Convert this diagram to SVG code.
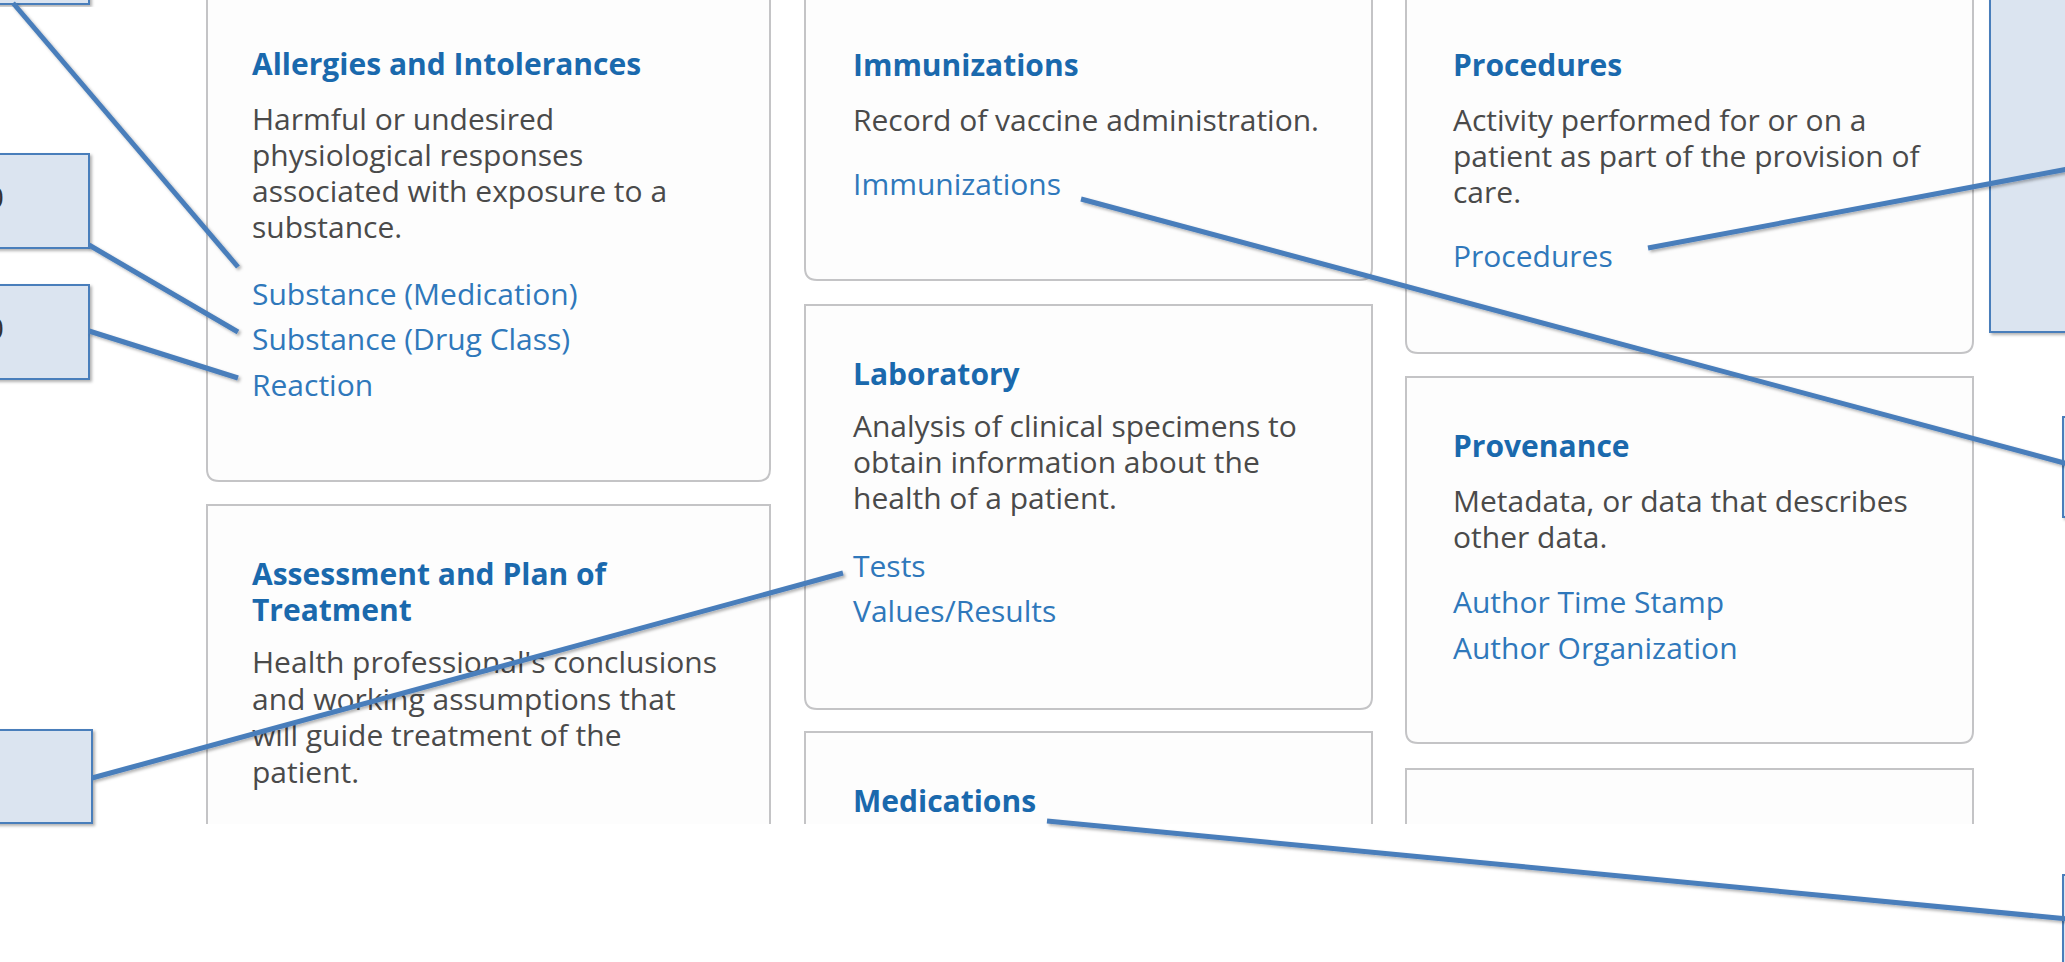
<svg xmlns="http://www.w3.org/2000/svg" width="2065" height="962" viewBox="0 0 2065 962">
<style>
.card{fill:#fdfdfd;stroke:#c4c4c6;stroke-width:2}
.t{font-family:"Open Sans","Noto Sans",sans-serif;font-size:30px;font-weight:700;fill:#1a69ad}
.d{font-family:"Open Sans","Noto Sans",sans-serif;font-size:30px;fill:#4a4a4a}
.l{font-family:"Open Sans","Noto Sans",sans-serif;font-size:30px;fill:#2f78bb}
.box{fill:#dbe4f0;stroke:#4a7ebb;stroke-width:2}
.con{stroke:#4a7ebb;stroke-width:5;fill:none;stroke-linecap:butt}
.g{font-family:"Open Sans","Noto Sans",sans-serif;font-size:30px;fill:#333}
</style>
<defs>
<clipPath id="shot"><rect x="0" y="0" width="2065" height="824"/></clipPath>
<filter id="sh" x="-10%" y="-10%" width="130%" height="130%"><feDropShadow dx="2" dy="2" stdDeviation="1.5" flood-color="#000" flood-opacity="0.3"/></filter>
</defs>
<rect width="2065" height="962" fill="#ffffff"/>
<g clip-path="url(#shot)">
<g id="allergies">
<path class="card" d="M207,-10 H770 V469 Q770,481 758,481 H219 Q207,481 207,469 Z"/>
<text class="t" x="252" y="75">Allergies and Intolerances</text>
<text class="d" x="252" y="130">Harmful or undesired</text>
<text class="d" x="252" y="166">physiological responses</text>
<text class="d" x="252" y="202">associated with exposure to a</text>
<text class="d" x="252" y="238">substance.</text>
<text class="l" x="252" y="305">Substance (Medication)</text>
<text class="l" x="252" y="350">Substance (Drug Class)</text>
<text class="l" x="252" y="396">Reaction</text>
</g>
<g id="assessment">
<path class="card" d="M207,505 H770 V900 H207 Z"/>
<text class="t" x="252" y="585">Assessment and Plan of</text>
<text class="t" x="252" y="621">Treatment</text>
<text class="d" x="252" y="673">Health professional's conclusions</text>
<text class="d" x="252" y="710">and working assumptions that</text>
<text class="d" x="252" y="746">will guide treatment of the</text>
<text class="d" x="252" y="783">patient.</text>
</g>
<g id="immunizations">
<path class="card" d="M805,-10 H1372 V268 Q1372,280 1360,280 H817 Q805,280 805,268 Z"/>
<text class="t" x="853" y="76">Immunizations</text>
<text class="d" x="853" y="131">Record of vaccine administration.</text>
<text class="l" x="853" y="195">Immunizations</text>
</g>
<g id="laboratory">
<path class="card" d="M805,305 H1372 V697 Q1372,709 1360,709 H817 Q805,709 805,697 Z"/>
<text class="t" x="853" y="385">Laboratory</text>
<text class="d" x="853" y="437">Analysis of clinical specimens to</text>
<text class="d" x="853" y="473">obtain information about the</text>
<text class="d" x="853" y="509">health of a patient.</text>
<text class="l" x="853" y="577">Tests</text>
<text class="l" x="853" y="622">Values/Results</text>
</g>
<g id="medications">
<path class="card" d="M805,732 H1372 V900 H805 Z"/>
<text class="t" x="853" y="812">Medications</text>
</g>
<g id="procedures">
<path class="card" d="M1406,-10 H1973 V341 Q1973,353 1961,353 H1418 Q1406,353 1406,341 Z"/>
<text class="t" x="1453" y="76">Procedures</text>
<text class="d" x="1453" y="131">Activity performed for or on a</text>
<text class="d" x="1453" y="167">patient as part of the provision of</text>
<text class="d" x="1453" y="203">care.</text>
<text class="l" x="1453" y="267">Procedures</text>
</g>
<g id="provenance">
<path class="card" d="M1406,377 H1973 V731 Q1973,743 1961,743 H1418 Q1406,743 1406,731 Z"/>
<text class="t" x="1453" y="457">Provenance</text>
<text class="d" x="1453" y="512">Metadata, or data that describes</text>
<text class="d" x="1453" y="548">other data.</text>
<text class="l" x="1453" y="613">Author Time Stamp</text>
<text class="l" x="1453" y="659">Author Organization</text>
</g>
<g id="card-next">
<path class="card" d="M1406,769 H1973 V900 H1406 Z"/>
</g>
</g>
<g id="callout-l1"><rect class="box" filter="url(#sh)" x="-10" y="-10" width="99" height="14"/></g>
<g id="callout-l2"><rect class="box" filter="url(#sh)" x="-10" y="154" width="99" height="94"/><text class="g" x="4" y="208" text-anchor="end">0</text></g>
<g id="callout-l3"><rect class="box" filter="url(#sh)" x="-10" y="285" width="99" height="94"/><text class="g" x="4" y="339" text-anchor="end">0</text></g>
<g id="callout-l4"><rect class="box" filter="url(#sh)" x="-10" y="730" width="102" height="93"/></g>
<g id="callout-r1"><rect class="box" filter="url(#sh)" x="1990" y="-10" width="90" height="342"/></g>
<g id="callout-r2"><rect class="box" filter="url(#sh)" x="2063" y="417" width="20" height="100"/></g>
<g id="callout-r3"><rect class="box" filter="url(#sh)" x="2063" y="875" width="20" height="100"/></g>
<g id="connectors" filter="url(#sh)">
<line class="con" x1="13" y1="3" x2="238" y2="267"/>
<line class="con" x1="89" y1="245" x2="238" y2="332"/>
<line class="con" x1="89" y1="331" x2="238" y2="378"/>
<line class="con" x1="92" y1="778" x2="843" y2="573"/>
<line class="con" x1="1081" y1="199" x2="2068" y2="464"/>
<line class="con" x1="1648" y1="248" x2="2068" y2="169"/>
<line class="con" x1="1047" y1="821" x2="2068" y2="919"/>
</g>
</svg>
